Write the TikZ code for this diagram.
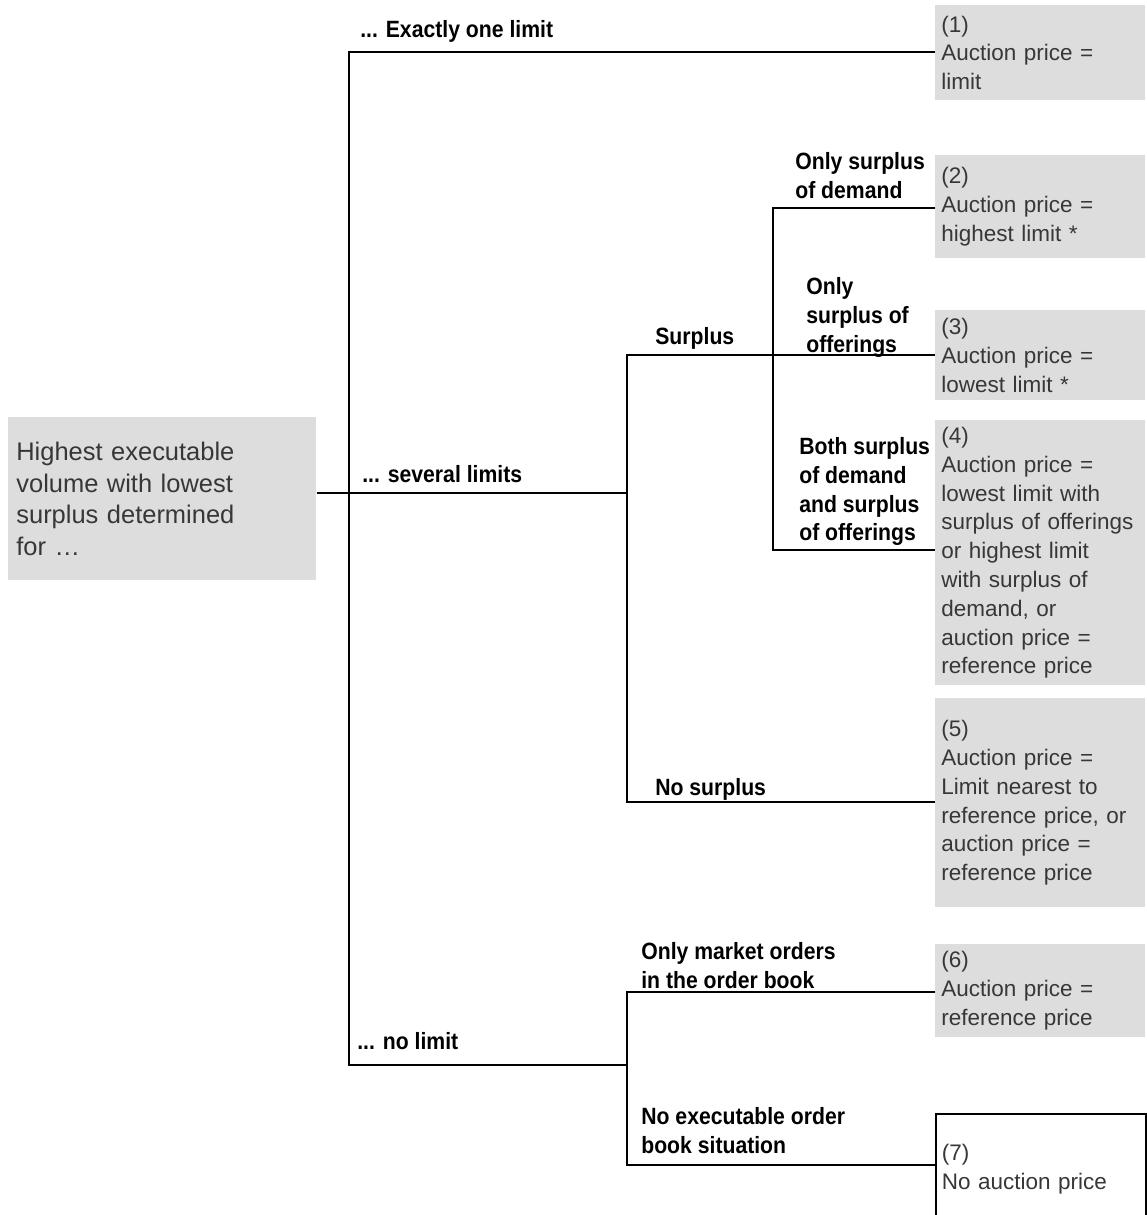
\documentclass[tikz,border=0pt]{standalone}
\usepackage{fontspec}
\setmainfont{Liberation Sans}
\newfontfamily\narrowfont[FakeStretch=0.9]{Liberation Sans}
\definecolor{boxgray}{RGB}{221,221,221}
\definecolor{textgray}{RGB}{55,55,55}
\newcommand{\resfont}{\fontsize{12.8}{16.4}\selectfont}
\newcommand{\rootfont}{\fontsize{14.5}{18.1}\selectfont}
\newcommand{\branchfont}{\narrowfont\bfseries\fontsize{13.4}{16.4}\selectfont}
\begin{document}
\begin{tikzpicture}[x=0.02cm,y=0.02cm]
	\tikzstyle{wire}=[black,line width=1.1pt]
	\tikzstyle{branch}=[font=\branchfont,align=left,inner sep=0pt,anchor=north west]
	\tikzstyle{result}=[fill=boxgray,text=textgray,font=\resfont,align=left,text width=3.96cm,inner xsep=0.12cm,inner ysep=0pt,anchor=north west]
	\useasboundingbox (0,0) rectangle (1147,-1215);
	% start box
	\node [result,font=\rootfont,text width=5.84cm,inner xsep=0.16cm,minimum height=3.26cm] (root) at (8,-417)
		{Highest executable\\volume with lowest\\surplus determined\\for \dots};
	% outcomes
	\node [result,minimum height=1.9cm] (r1) at (935,-5) {(1)\\Auction price =\\limit};
	\node [result,minimum height=2.06cm] (r2) at (935,-155) {(2)\\Auction price =\\highest limit *};
	\node [result,minimum height=1.8cm] (r3) at (935,-310) {(3)\\Auction price =\\lowest limit *};
	\node [result,minimum height=5.3cm] (r4) at (935,-420) {(4)\\Auction price =\\lowest limit with\\surplus of offerings\\or highest limit\\with surplus of\\demand, or\\auction price =\\reference price};
	\node [result,minimum height=4.18cm] (r5) at (935,-698) {(5)\\Auction price =\\Limit nearest to\\reference price, or\\auction price =\\reference price};
	\node [result,minimum height=1.86cm] (r6) at (935,-944) {(6)\\Auction price =\\reference price};
	\node [result,fill=white,draw=black,line width=1.1pt,minimum height=2.2cm] (r7) at (935,-1113) {(7)\\No auction price};
	% junctions
	\coordinate (a1) at (349,-52);
	\coordinate (a3) at (349,-1065);
	\coordinate (j1) at (627,-493);
	\coordinate (b0) at (627,-1065);
	\coordinate (s1) at (627,-355);
	\coordinate (s2) at (627,-802);
	\coordinate (t1) at (773,-208);
	\coordinate (t2) at (773,-550);
	\coordinate (n1) at (627,-992);
	\coordinate (n2) at (627,-1165);
	% tree
	\draw [wire] (a1 -| r1.west) -- (a1) -- (a3) -- (b0);
	\draw [wire] (root.east |- j1) -- (j1);
	\draw [wire] (s1 -| r3.west) -- (s1) -- (s2) -- (s2 -| r5.west);
	\draw [wire] (t1 -| r2.west) -- (t1) -- (t2) -- (t2 -| r4.west);
	\draw [wire] (n1 -| r6.west) -- (n1) -- (n2) -- (n2 -| r7.west);
	% branch labels
	\node [branch] (l1) at (360,-20) {... Exactly one limit};
	\node [branch] (l2) at (362,-465) {... several limits};
	\node [branch] (l3) at (357,-1032) {... no limit};
	\node [branch] (l4) at (655,-327) {Surplus};
	\node [branch] (l5) at (655,-778) {No surplus};
	\node [branch] (l6) at (795,-152) {Only surplus\\of demand};
	\node [branch] (l7) at (806,-277) {Only\\surplus of\\offerings};
	\node [branch] (l8) at (799,-437) {Both surplus\\of demand\\and surplus\\of offerings};
	\node [branch] (l9) at (641,-942) {Only market orders\\in the order book};
	\node [branch] (l10) at (641,-1107) {No executable order\\book situation};
\end{tikzpicture}
\end{document}
